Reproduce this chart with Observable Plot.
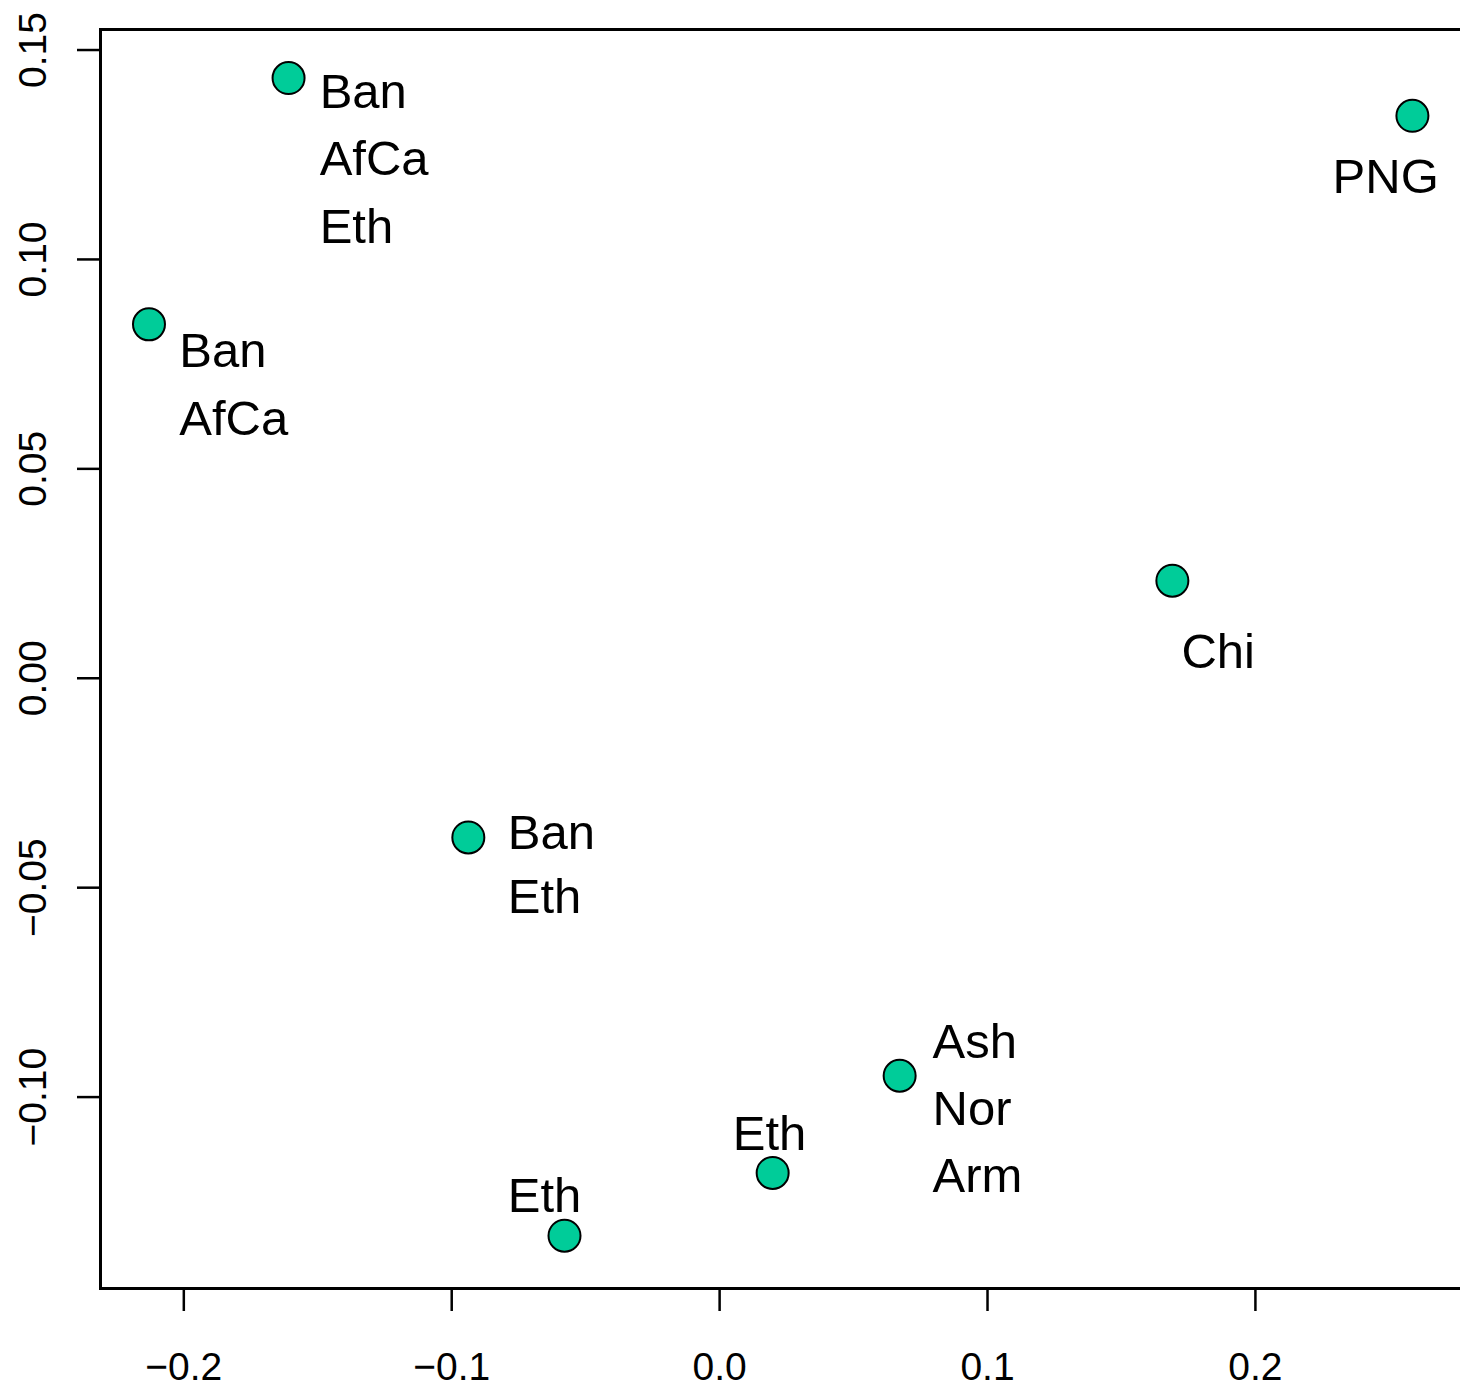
<!DOCTYPE html>
<html>
<head>
<meta charset="utf-8">
<script src="https://cdn.jsdelivr.net/npm/d3@7"></script>
<script src="https://cdn.jsdelivr.net/npm/@observablehq/plot@0.6"></script>
<style>
  body { margin: 0; background: #fff; }
  svg { display: block; }
</style>
</head>
<body>
<div id="chart"></div>
<script>
// Scores of the eight samples on the first two principal components
const pc1 = [-0.1609, -0.2130, 0.2586, 0.1690, -0.0938, 0.0672, 0.0198, -0.0579];
const pc2 = [0.1433, 0.0845, 0.1343, 0.0233, -0.0380, -0.0949, -0.1181, -0.1331];

// Population annotations, each anchored (left edge, line middle) in score units
const labelText = ["Ban", "AfCa", "Eth", "Ban", "AfCa", "PNG", "Chi", "Ban", "Eth", "Ash", "Nor", "Arm", "Eth", "Eth"];
const labelX = [-0.1493, -0.1493, -0.1493, -0.2017, -0.2017, 0.2288, 0.1724, -0.0791, -0.0791, 0.0795, 0.0795, 0.0795, 0.0049, -0.0791];
const labelY = [0.1400, 0.1240, 0.1077, 0.0780, 0.0618, 0.1195, 0.0061, -0.0371, -0.0522, -0.0870, -0.1030, -0.1190, -0.1090, -0.1236];

// Axis ticks
const xTicks = [-0.2, -0.1, 0.0, 0.1, 0.2];
const yTicks = [-0.10, -0.05, 0.00, 0.05, 0.10, 0.15];

const points = pc1.map((x, i) => ({x, y: pc2[i]}));
const labels = labelText.map((text, i) => ({text, x: labelX[i], y: labelY[i]}));

const chart = Plot.plot({
  width: 1460,
  height: 1390,
  marginLeft: 100,
  marginRight: -2,
  marginTop: 29,
  marginBottom: 102,
  style: {
    fontFamily: "'Liberation Sans', Arial, Helvetica, sans-serif",
    background: "#fff",
    color: "#000"
  },
  x: {domain: [-0.2311, 0.2773]},
  y: {domain: [-0.1457, 0.1549]},
  marks: [
    Plot.axisX({
      ticks: xTicks, tickFormat: d3.format(".1f"),
      tickSize: 23, tickPadding: 41, fontSize: 39, strokeWidth: 2.5, label: null
    }),
    Plot.axisY({
      ticks: yTicks, tickFormat: d3.format(".2f"),
      tickSize: 23, tickPadding: 32, tickRotate: -90, fontSize: 39, strokeWidth: 2.5, label: null
    }),
    Plot.frame({stroke: "#000", strokeWidth: 3}),
    Plot.dot(points, {x: "x", y: "y", r: 16, fill: "#00CC99", stroke: "#000", strokeWidth: 2}),
    Plot.text(labels, {
      x: "x", y: "y", text: "text",
      textAnchor: "start", lineAnchor: "middle", fontSize: 49, fill: "#000"
    })
  ]
});

document.getElementById("chart").append(chart);
</script>
</body>
</html>
